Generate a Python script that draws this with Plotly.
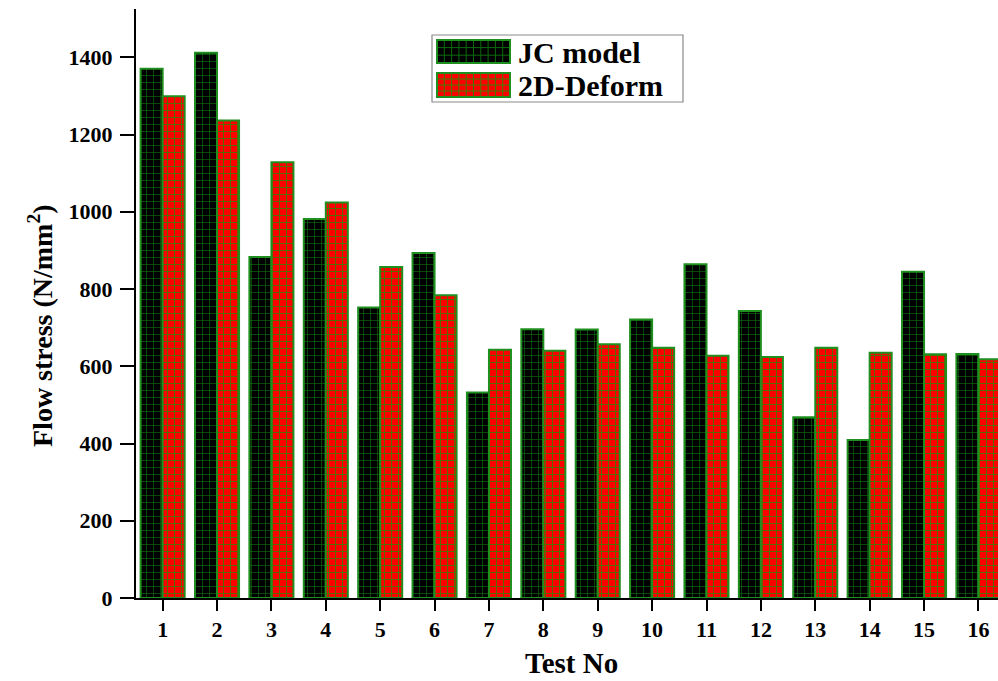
import plotly.graph_objects as go

tests = list(range(1, 17))
jc_model = [1370, 1412, 883, 981, 752, 893, 532, 696, 695, 721, 864, 743, 468, 409, 845, 632]
deform_2d = [1299, 1236, 1128, 1024, 857, 784, 643, 640, 657, 648, 627, 624, 648, 635, 631, 618]
series_names = ["JC model", "2D-Deform"]
y_ticks = [0, 200, 400, 600, 800, 1000, 1200, 1400]

W, H = 998, 681
L, R, T, B = 136, 0, 9, 83
PW, PH = W - L - R, H - T - B

FONT = "Liberation Serif, Times New Roman, serif"
OUTLINE = "#1f8f1f"

fig = go.Figure()
fig.add_trace(go.Bar(
    x=tests, y=jc_model, name=series_names[0], showlegend=False,
    marker=dict(color="black", line=dict(color=OUTLINE, width=2),
                pattern=dict(shape="+", bgcolor="black", fgcolor="#0d6a0d",
                             size=7, solidity=0.18, fillmode="replace")),
))
fig.add_trace(go.Bar(
    x=tests, y=deform_2d, name=series_names[1], showlegend=False,
    marker=dict(color="red", line=dict(color=OUTLINE, width=2),
                pattern=dict(shape="+", bgcolor="#ff0000", fgcolor="#3a8000",
                             size=7, solidity=0.22, fillmode="replace")),
))


def px2paper(px, py):
    return (px - L) / PW, (H - B - py) / PH


shapes = []
annotations = []

# legend box
x0, y0 = px2paper(432, 102)
x1, y1 = px2paper(683, 35)
shapes.append(dict(type="rect", xref="paper", yref="paper", x0=x0, y0=y0, x1=x1, y1=y1,
                   line=dict(color="#8a8a8a", width=1.2), fillcolor="white", layer="above"))


def swatch(px0, py0, px1, py1, fill, grid, cw, ch):
    a0, b0 = px2paper(px0, py1)
    a1, b1 = px2paper(px1, py0)
    shapes.append(dict(type="rect", xref="paper", yref="paper", x0=a0, y0=b0, x1=a1, y1=b1,
                       fillcolor=fill, line=dict(width=0), layer="above"))
    path = ""
    x = px0 + cw
    while x < px1 - 1:
        p, q0 = px2paper(x, py0)
        _, q1 = px2paper(x, py1)
        path += f"M{p},{q0}L{p},{q1}"
        x += cw
    y = py0 + ch
    while y < py1 - 1:
        p0, q = px2paper(px0, y)
        p1, _ = px2paper(px1, y)
        path += f"M{p0},{q}L{p1},{q}"
        y += ch
    shapes.append(dict(type="path", xref="paper", yref="paper", path=path,
                       line=dict(color=grid, width=1), layer="above"))
    shapes.append(dict(type="rect", xref="paper", yref="paper", x0=a0, y0=b0, x1=a1, y1=b1,
                       line=dict(color=OUTLINE, width=2), layer="above"))


swatch(437, 40, 510, 63, "black", "#0d6a0d", 7.3, 7.6)
swatch(437, 73, 510, 97, "#ff0000", "#3a8000", 7.3, 6.0)

for name, py in zip(series_names, [52, 85]):
    ax, ay = px2paper(516, py)
    annotations.append(dict(text=f"<b>{name}</b>", xref="paper", yref="paper", x=ax, y=ay,
                            xanchor="left", yanchor="middle", showarrow=False,
                            font=dict(family=FONT, size=30, color="black")))

# axis titles
tx, ty = px2paper(571, 663)
annotations.append(dict(text="<b>Test No</b>", xref="paper", yref="paper", x=tx, y=ty,
                        xanchor="center", yanchor="middle", showarrow=False,
                        font=dict(family=FONT, size=29, color="black")))
tx, ty = px2paper(40, 326)
annotations.append(dict(text="<b>Flow stress (N/mm<sup>2</sup>)</b>", xref="paper", yref="paper",
                        x=tx, y=ty, xanchor="center", yanchor="middle", textangle=-90,
                        showarrow=False, font=dict(family=FONT, size=28, color="black")))

tickfont = dict(family=FONT, size=22, color="black", weight="bold")

fig.update_layout(
    width=W, height=H,
    margin=dict(l=L, r=R, t=T, b=B, pad=0),
    paper_bgcolor="white", plot_bgcolor="white",
    barmode="group", bargap=0.19, bargroupgap=0,
    shapes=shapes, annotations=annotations,
    showlegend=False,
    xaxis=dict(range=[0.51, 16.36], tickmode="array", tickvals=tests,
               ticktext=[str(t) for t in tests],
               showline=True, linecolor="black", linewidth=2, mirror=False,
               ticks="outside", ticklen=11, tickwidth=2, tickcolor="black",
               showgrid=False, zeroline=False, ticklabelstandoff=0,
               tickfont=tickfont),
    yaxis=dict(range=[0, 1525], tickmode="array", tickvals=y_ticks,
               showline=True, linecolor="black", linewidth=2, mirror=False,
               ticks="outside", ticklen=14, tickwidth=2, tickcolor="black",
               showgrid=False, zeroline=False, ticklabelstandoff=3,
               tickfont=tickfont),
)

fig.write_html("out.html", config={"displayModeBar": False},
               post_script="document.body.style.margin='0';document.body.style.overflow='hidden';")
